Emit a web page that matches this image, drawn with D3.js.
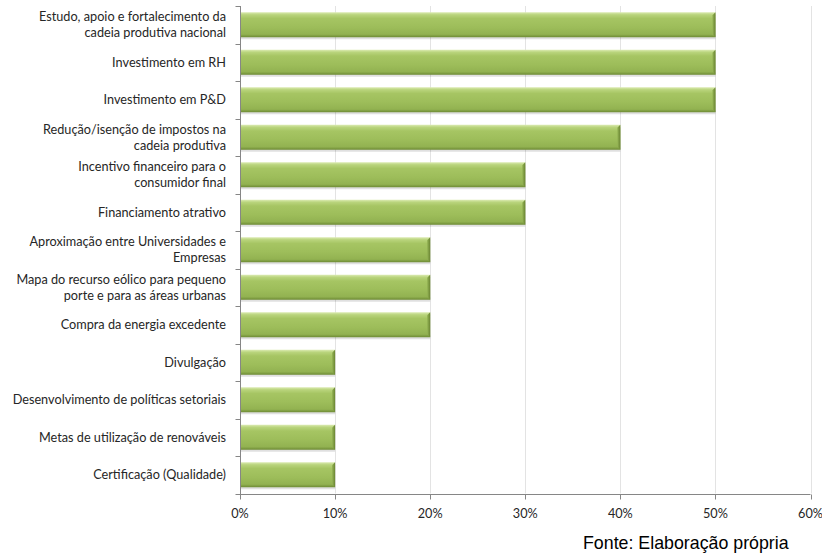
<!DOCTYPE html>
<html><head><meta charset="utf-8">
<script src="https://cdn.jsdelivr.net/npm/d3@7"></script>
<style>body{margin:0;background:#fff}</style>
</head><body>
<svg id="c" width="822" height="555"></svg>
<script>
const categories = [
  ["Estudo, apoio e fortalecimento da","cadeia produtiva nacional"],
  ["Investimento em RH"],
  ["Investimento em P&D"],
  ["Redução/isenção de impostos na","cadeia produtiva"],
  ["Incentivo financeiro para o","consumidor final"],
  ["Financiamento atrativo"],
  ["Aproximação entre Universidades e","Empresas"],
  ["Mapa do recurso eólico para pequeno","porte e para as áreas urbanas"],
  ["Compra da energia excedente"],
  ["Divulgação"],
  ["Desenvolvimento de políticas setoriais"],
  ["Metas de utilização de renováveis"],
  ["Certificação (Qualidade)"]
];
const values = [0.5,0.5,0.5,0.4,0.3,0.3,0.2,0.2,0.2,0.1,0.1,0.1,0.1];
const xTicks = [0,0.1,0.2,0.3,0.4,0.5,0.6];
const sourceText = "Fonte: Elaboração própria";

const svg = d3.select("#c");
const L = 240, R = 810.5, T = 6, B = 493.5;
const x = d3.scaleLinear().domain([0,0.6]).range([L,R]);
const y = d3.scaleBand().domain(d3.range(categories.length)).range([T,B]).paddingInner(0.333).paddingOuter(0.1665);
const FONT = "Lato, 'Open Sans', sans-serif";

const defs = svg.append("defs");
const g1 = defs.append("linearGradient").attr("id","barg").attr("x1",0).attr("y1",0).attr("x2",0).attr("y2",1);
[[0,"#dcebb3"],[0.1,"#b9d47c"],[0.25,"#a6c563"],[0.6,"#9dbd5a"],[0.88,"#92b251"],[1,"#6d8a34"]].forEach(s=>g1.append("stop").attr("offset",s[0]).attr("stop-color",s[1]));
const g2 = defs.append("linearGradient").attr("id","edge").attr("x1",0).attr("y1",0).attr("x2",1).attr("y2",0);
[[0,"#95b455"],[1,"#6a8532"]].forEach(s=>g2.append("stop").attr("offset",s[0]).attr("stop-color",s[1]));

// gridlines
svg.append("g").selectAll("line").data(xTicks.slice(1)).join("line")
  .attr("x1",d=>Math.round(x(d))+0.5).attr("x2",d=>Math.round(x(d))+0.5)
  .attr("y1",T).attr("y2",B).attr("stroke","#e3e3e3").attr("stroke-width",1);

// bars
const bars = svg.append("g").selectAll("g").data(values).join("g");
bars.append("rect").attr("x",x(0)).attr("y",(d,i)=>y(i)+2).attr("width",d=>x(d)-x(0)).attr("height",y.bandwidth())
  .attr("fill","#000").attr("opacity",0.12);
bars.append("rect").attr("x",x(0)).attr("y",(d,i)=>y(i)).attr("width",d=>x(d)-x(0)).attr("height",y.bandwidth())
  .attr("fill","url(#barg)");
bars.append("path").attr("d",(d,i)=>{
  const x1=x(d), y0=y(i), h=y.bandwidth();
  return `M${x1-3},${y0+3}L${x1},${y0}L${x1},${y0+h}L${x1-3},${y0+h-3}Z`;
}).attr("fill","url(#edge)");

// y axis
const yAxis = svg.append("g").attr("transform",`translate(${L},0)`);
yAxis.append("line").attr("x1",0.5).attr("x2",0.5).attr("y1",T).attr("y2",B+4).attr("stroke","#868686");
const bounds = d3.range(categories.length+1).map(i=>T+i*y.step());
yAxis.selectAll("line.t").data(bounds).join("line").attr("class","t")
  .attr("x1",-4.5).attr("x2",0.5).attr("y1",d=>Math.round(d)+0.5).attr("y2",d=>Math.round(d)+0.5).attr("stroke","#868686");
const lab = svg.append("g").selectAll("text").data(categories).join("text")
  .attr("text-anchor","end").attr("font-family",FONT).attr("font-size","12.7px").attr("fill","#262626");
lab.each(function(lines,i){
  const cy = y(i)+y.bandwidth()/2;
  const lh = 16;
  const start = cy - (lines.length-1)*lh/2;
  d3.select(this).selectAll("tspan").data(lines).join("tspan")
    .attr("x",L-14).attr("y",(l,j)=>start+j*lh).attr("dy","0.35em").text(l=>l);
});

// x axis
const xa = svg.append("g").attr("transform",`translate(0,${Math.round(B)+0.5})`);
xa.append("line").attr("x1",L-4).attr("x2",R).attr("stroke","#868686");
xa.selectAll("line.t").data(xTicks).join("line").attr("class","t")
  .attr("x1",d=>Math.round(x(d))+0.5).attr("x2",d=>Math.round(x(d))+0.5).attr("y1",0).attr("y2",5).attr("stroke","#868686");
xa.selectAll("text").data(xTicks).join("text").attr("x",d=>x(d)).attr("y",19).attr("dy","0.35em")
  .attr("text-anchor","middle").attr("font-family",FONT).attr("font-size","12.7px").attr("fill","#262626")
  .text(d=>d3.format(".0%")(d));

svg.append("text").attr("x",583).attr("y",549).attr("font-family","'Liberation Sans', Arial, sans-serif")
  .attr("font-size","17.8px").attr("fill","#000").text(sourceText);
</script>
</body></html>
